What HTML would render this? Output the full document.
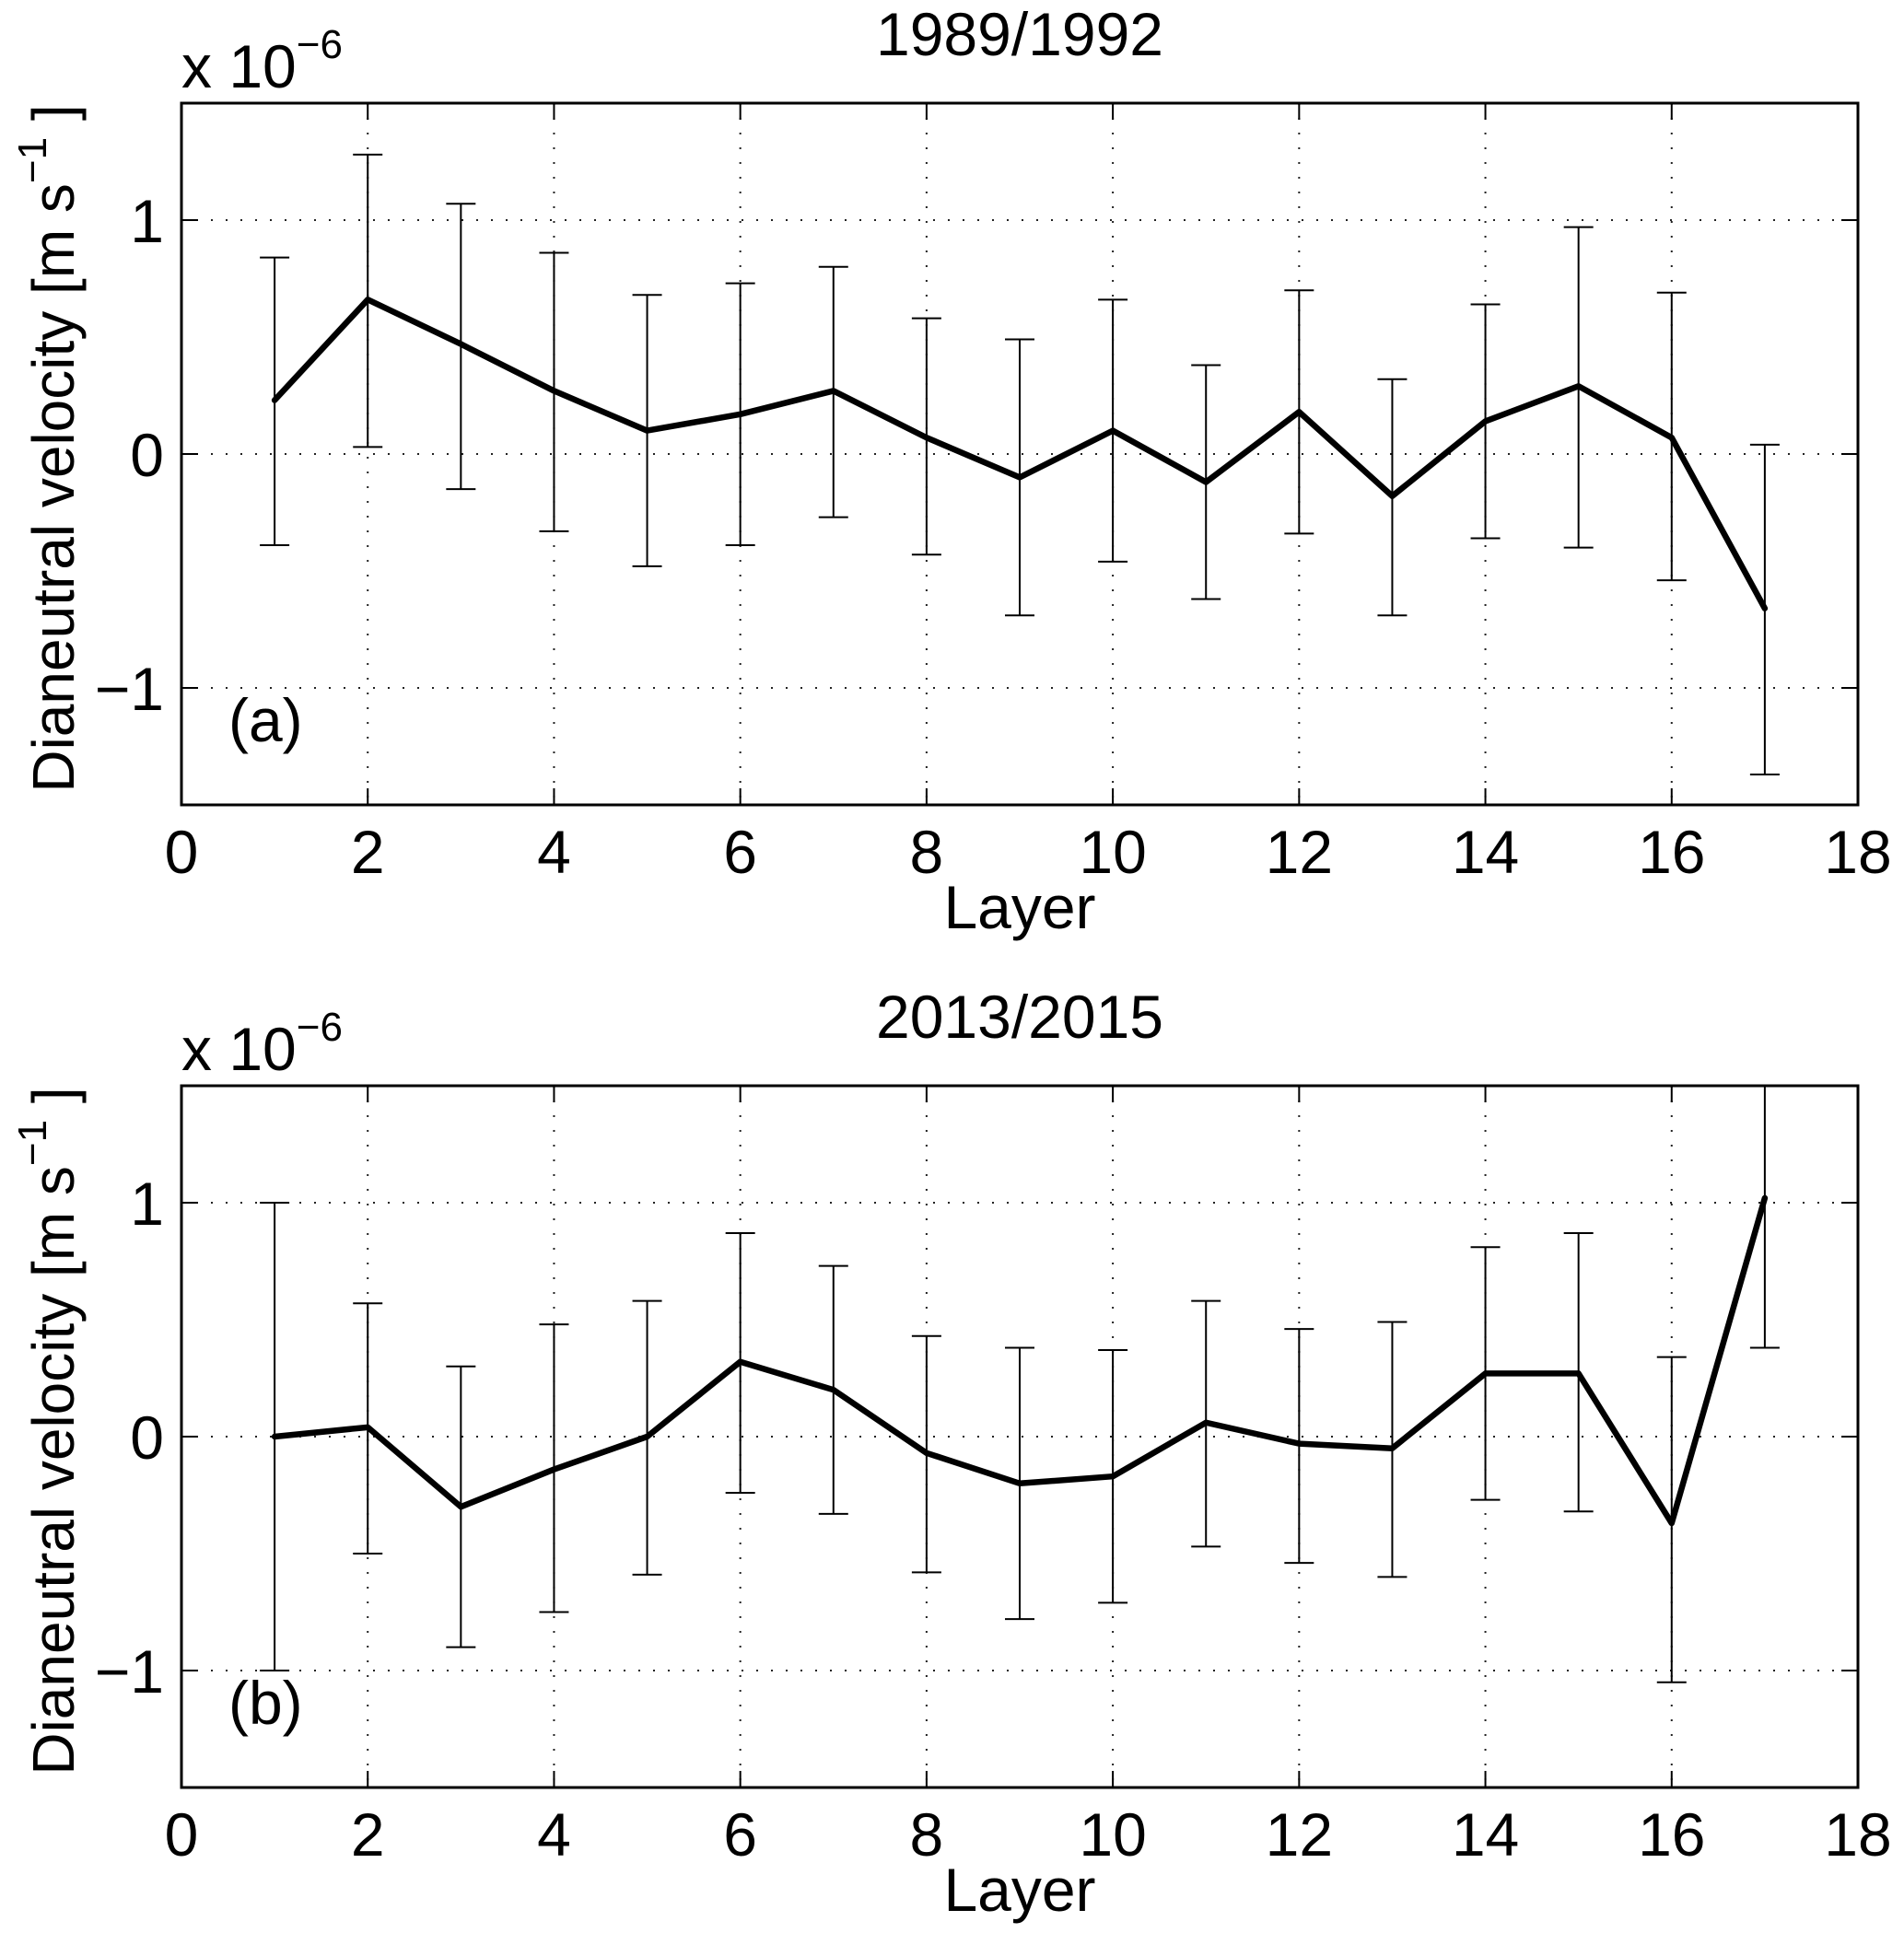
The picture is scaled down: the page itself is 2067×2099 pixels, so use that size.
<!DOCTYPE html>
<html><head><meta charset="utf-8">
<style>
html,body{margin:0;padding:0;background:#fff;}
svg{display:block;font-family:"Liberation Sans",sans-serif;}
</style></head>
<body>
<svg id="fig" width="2067" height="2099" viewBox="0 0 2067 2099" xmlns="http://www.w3.org/2000/svg"></svg>
<script>
const layers = [1,2,3,4,5,6,7,8,9,10,11,12,13,14,15,16,17];
const meanA = [0.23,0.66,0.47,0.27,0.10,0.17,0.27,0.07,-0.10,0.10,-0.12,0.18,-0.18,0.14,0.29,0.07,-0.66];
const upperA = [0.84,1.28,1.07,0.86,0.68,0.73,0.80,0.58,0.49,0.66,0.38,0.70,0.32,0.64,0.97,0.69,0.04];
const lowerA = [-0.39,0.03,-0.15,-0.33,-0.48,-0.39,-0.27,-0.43,-0.69,-0.46,-0.62,-0.34,-0.69,-0.36,-0.40,-0.54,-1.37];
const meanB = [0.00,0.04,-0.30,-0.14,0.00,0.32,0.20,-0.07,-0.20,-0.17,0.06,-0.03,-0.05,0.27,0.27,-0.37,1.02];
const upperB = [1.00,0.57,0.30,0.48,0.58,0.87,0.73,0.43,0.38,0.37,0.58,0.46,0.49,0.81,0.87,0.34,1.66];
const lowerB = [-1.00,-0.50,-0.90,-0.75,-0.59,-0.24,-0.33,-0.58,-0.78,-0.71,-0.47,-0.54,-0.60,-0.27,-0.32,-1.05,0.38];
const xTicks = [0,2,4,6,8,10,12,14,16,18];
const yTicks = [-1,0,1];
const yTickLabels = ["\u22121","0","1"];

const NS="http://www.w3.org/2000/svg";
const svg=document.getElementById('fig');
function mk(tag,attrs,parent){const e=document.createElementNS(NS,tag);for(const k in attrs)e.setAttribute(k,attrs[k]);(parent||svg).appendChild(e);return e;}

function panel(top,title,letter,mean,upper,lower,key){
  const L=197,R=2017,T=top,B=top+762;
  const x=v=>L+(v-0)/(18-0)*(R-L);
  const y=v=>B-(v+1.5)/3*(B-T);
  const g=mk('g',{});
  
  
  const clipId='clip-'+key;
  const cp=mk('clipPath',{id:clipId},g);mk('rect',{x:L,y:T,width:R-L,height:B-T},cp);
  xTicks.forEach(t=>{if(t>0&&t<18){const gl=mk('line',{x1:x(t),x2:x(t),y1:T,y2:B,stroke:'#222','stroke-width':2,'stroke-dasharray':'2 14'},g);
    }});
  yTicks.forEach(t=>{const gl=mk('line',{x1:L,x2:R,y1:y(t),y2:y(t),stroke:'#222','stroke-width':2,'stroke-dasharray':'2 14'},g);
    });
  xTicks.forEach(t=>{mk('line',{x1:x(t),x2:x(t),y1:B,y2:B-18,stroke:'#000','stroke-width':2},g);mk('line',{x1:x(t),x2:x(t),y1:T,y2:T+18,stroke:'#000','stroke-width':2},g);
    const tl=mk('text',{x:x(t),y:B+74,'font-size':66,'text-anchor':'middle'},g);tl.textContent=t;
    });
  yTicks.forEach((t,i)=>{mk('line',{x1:L,x2:L+18,y1:y(t),y2:y(t),stroke:'#000','stroke-width':2},g);mk('line',{x1:R,x2:R-18,y1:y(t),y2:y(t),stroke:'#000','stroke-width':2},g);
    const tl=mk('text',{x:178,y:y(t)+24,'font-size':66,'text-anchor':'end'},g);tl.textContent=yTickLabels[i];
    });
  const eg=mk('g',{'clip-path':'url(#'+clipId+')'},g);
  layers.forEach((l,i)=>{
    const eb=mk('path',{d:`M${x(l)},${y(upper[i])}V${y(lower[i])}M${x(l)-16},${y(upper[i])}H${x(l)+16}M${x(l)-16},${y(lower[i])}H${x(l)+16}`,stroke:'#000','stroke-width':2,fill:'none'},eg);
    
  });
  const ln=mk('polyline',{points:layers.map((l,i)=>x(l)+','+y(mean[i])).join(' '),fill:'none',stroke:'#000','stroke-width':6.5,'stroke-linejoin':'round','stroke-linecap':'round'},eg);
  
  const fr=mk('rect',{x:L,y:T,width:R-L,height:B-T,fill:'none',stroke:'#000','stroke-width':3},g);
  
  const tt=mk('text',{x:(L+R)/2,y:T-52,'font-size':66,'text-anchor':'middle'},g);tt.textContent=title;
  
  const ex=mk('text',{x:197,y:T-17,'font-size':66},g);ex.innerHTML='x 10<tspan dy="-32" font-size="44">\u22126</tspan>';
  
  const lt=mk('text',{x:248,y:T+693,'font-size':66},g);lt.textContent=letter;
  
  const xl=mk('text',{x:(L+R)/2,y:B+134,'font-size':66,'text-anchor':'middle'},g);xl.textContent='Layer';
  
  const yl=mk('text',{x:0,y:0,'font-size':64,'text-anchor':'middle',transform:`translate(80,${T+375}) rotate(-90)`},g);
  yl.innerHTML='Dianeutral velocity [m s<tspan dy="-30" font-size="44">\u22121</tspan><tspan dy="30"> ]</tspan>';
  
}
panel(112,'1989/1992','(a)',meanA,upperA,lowerA,'a');
panel(1179,'2013/2015','(b)',meanB,upperB,lowerB,'b');
</script>
</body></html>
